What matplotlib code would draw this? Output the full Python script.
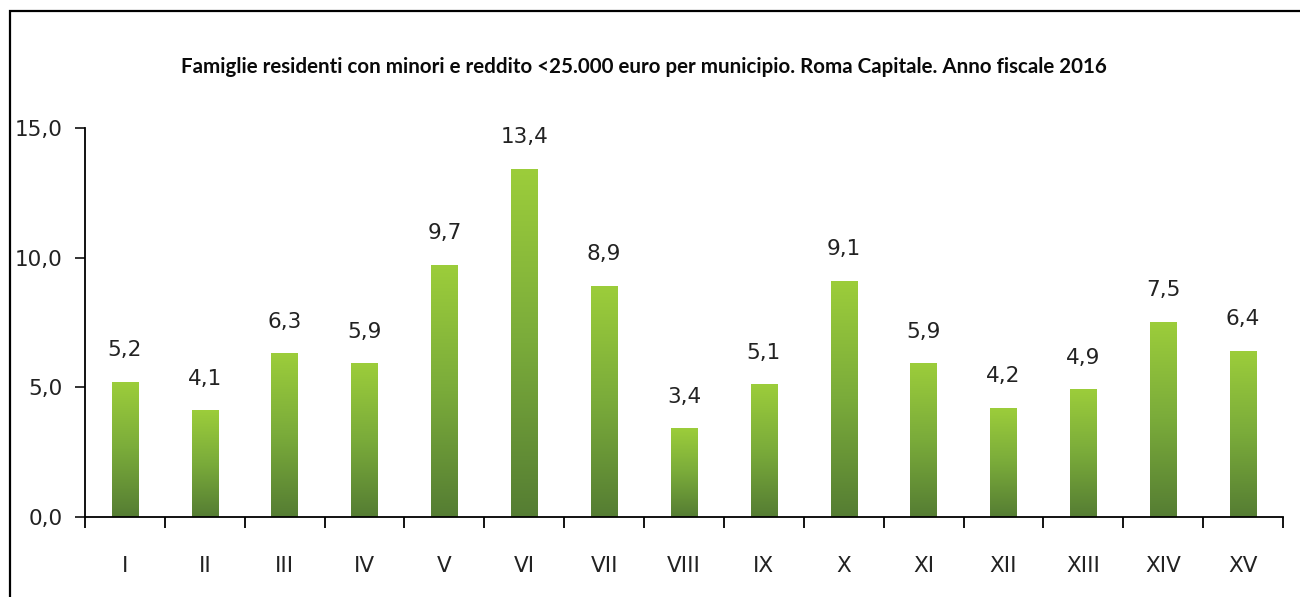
import matplotlib
matplotlib.use("Agg")
import matplotlib.pyplot as plt
import numpy as np
from matplotlib.colors import LinearSegmentedColormap
from matplotlib.patches import Rectangle

municipi = ['I', 'II', 'III', 'IV', 'V', 'VI', 'VII', 'VIII', 'IX', 'X',
            'XI', 'XII', 'XIII', 'XIV', 'XV']
valori = [5.2, 4.1, 6.3, 5.9, 9.7, 13.4, 8.9, 3.4, 5.1, 9.1,
          5.9, 4.2, 4.9, 7.5, 6.4]
titolo = ('Famiglie residenti con minori e reddito <25.000 euro per municipio. '
          'Roma Capitale. Anno fiscale 2016')

narrow = ['Liberation Sans Narrow', 'DejaVu Sans Condensed', 'DejaVu Sans']
plt.rcParams['font.family'] = narrow

fig = plt.figure(figsize=(13, 5.97), dpi=100)
ax = fig.add_axes([85 / 1300, 80 / 597, 1198 / 1300, 389 / 597])

# cornice del grafico (esce a destra e in basso)
fig.patches.append(Rectangle((9.5 / 1300, -0.1), 1.2, (597 - 10.5) / 597 + 0.1,
                             transform=fig.transFigure, fill=False,
                             edgecolor='black', linewidth=1.6))

x = np.arange(len(municipi))
bars = ax.bar(x, valori, width=0.33, color='none', edgecolor='none')

cmap = LinearSegmentedColormap.from_list('verde', ['#557d33', '#7aab3a', '#9ccd3b'])
grad = np.linspace(0, 1, 256).reshape(-1, 1)
for b, v in zip(bars, valori):
    x0 = b.get_x()
    ax.imshow(grad, cmap=cmap, origin='lower', aspect='auto',
              extent=[x0, x0 + b.get_width(), 0, b.get_height()], zorder=2)
    ax.text(b.get_x() + b.get_width() / 2, v + 0.85, f'{v:.1f}'.replace('.', ','),
            ha='center', va='bottom', fontsize=15.5, color='#222222')

ax.set_xlim(-0.5, len(municipi) - 0.5)
ax.set_ylim(0, 15)
ax.set_yticks([0, 5, 10, 15])
ax.set_yticklabels(['0,0', '5,0', '10,0', '15,0'])
ax.set_xticks(x)
ax.set_xticklabels(municipi)
ax.set_xticks(np.arange(-0.5, len(municipi), 1), minor=True)
ax.tick_params(axis='x', which='major', length=0, pad=28, labelsize=15.5, colors='#222222')
ax.tick_params(axis='x', which='minor', length=8, width=1.3, direction='out')
ax.tick_params(axis='y', length=7, width=1.3, direction='out', pad=9,
               labelsize=15.5, colors='#222222')

for s in ['top', 'right']:
    ax.spines[s].set_visible(False)
for s in ['left', 'bottom']:
    ax.spines[s].set_linewidth(1.3)

fig.text(644 / 1300, 1 - 67 / 597, titolo, ha='center', va='center',
         fontsize=14.8, fontweight='bold', family=['Lato', 'DejaVu Sans'],
         color='#0a0a0a')

fig.savefig('out.png', dpi=100)
